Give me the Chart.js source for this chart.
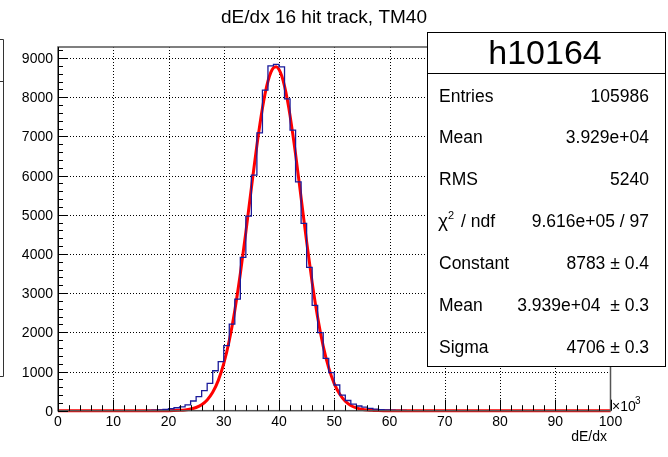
<!DOCTYPE html>
<html>
<head>
<meta charset="utf-8">
<script src="https://cdn.jsdelivr.net/npm/chart.js@4.4.1/dist/chart.umd.min.js"></script>
<style>
html, body { margin: 0; padding: 0; background: #fff; }
#wrap { width: 668px; height: 457px; }
</style>
</head>
<body>
<div id="wrap"><canvas id="c" width="668" height="457"></canvas></div>
<script>
// histogram: 100 bins of width 1 (x10^3)
const binWidth = 1;
const binCounts = [
    0, 0, 0, 0, 0, 0, 0, 0, 0, 0,
    0, 0, 0, 0, 2, 4, 8, 12, 20, 35,
    50, 75, 100, 150, 247, 357, 510, 698, 1020, 1250,
    1660, 2212, 2850, 3913, 4967, 6013, 7090, 8180, 8800, 8840,
    8776, 7960, 7160, 5842, 4780, 3660, 2690, 1995, 1337, 970,
    656, 400, 260, 170, 120, 90, 60, 40, 28, 18,
    12, 8, 5, 3, 2, 1, 0, 0, 0, 0,
    0, 0, 0, 0, 0, 0, 0, 0, 0, 0,
    0, 0, 0, 0, 0, 0, 0, 0, 0, 0,
    0, 0, 0, 0, 0, 0, 0, 0, 0, 0
];

const fitX = [0, 10, 15, 18, 20, 21, 22, 23, 24, 25, 26, 27, 28, 29, 30, 31, 32, 33, 34, 35, 36, 37, 37.5, 38, 38.5, 39, 39.5,
    40, 40.5, 41, 41.5, 42, 43, 44, 45, 46, 47, 48, 49, 50, 51, 52, 53, 54, 55, 56, 57, 58, 59, 60, 62, 70, 100];
const fitY = [0, 0, 0, 0.3, 1.8, 4.2, 9.5, 20, 42, 82, 153, 275, 469, 768, 1200, 1792, 2560, 3493, 4558, 5684, 6776, 7720, 8102, 8408, 8627, 8753, 8781,
    8710, 8542, 8284, 7943, 7531, 6544, 5436, 4316, 3275, 2376, 1647, 1092, 692, 419, 242, 134, 71, 36, 17, 8, 3.5, 1.5, 0.6, 0, 0, 0];

const xTicks = [0, 10, 20, 30, 40, 50, 60, 70, 80, 90, 100];
const yTicks = [0, 1000, 2000, 3000, 4000, 5000, 6000, 7000, 8000, 9000];
const yMax = 9282;

const statsTitle = 'h10164';
const statsRows = [
    ['Entries', '105986'],
    ['Mean', '3.929e+04'],
    ['RMS', '5240'],
    ['chi2', '9.616e+05 / 97'],
    ['Constant', '8783 \u00b1 0.4'],
    ['Mean', '3.939e+04  \u00b1 0.3'],
    ['Sigma', '4706 \u00b1 0.3']
];

const FONT = '"Liberation Sans", Arial, Helvetica, sans-serif';

const histPoints = binCounts.map((v, i) => ({ x: i * binWidth, y: v }));
histPoints.push({ x: binCounts.length * binWidth, y: binCounts[binCounts.length - 1] });
const fitPoints = fitX.map((x, i) => ({ x: x, y: fitY[i] }));

// ROOT-like frame, ticks, grid and stats box
const rootPlugin = {
    id: 'rootFrame',
    beforeDraw(chart) {
        const ctx = chart.ctx;
        ctx.save();
        ctx.fillStyle = '#fff';
        ctx.fillRect(0, 0, chart.width, chart.height);
        // title
        ctx.fillStyle = '#000';
        ctx.font = '19px ' + FONT;
        ctx.textAlign = 'center';
        ctx.textBaseline = 'alphabetic';
        ctx.fillText('dE/dx 16 hit track, TM40', 324, 23);
        // edge of a neighbouring box, cut off at the left
        ctx.strokeStyle = '#333';
        ctx.lineWidth = 1;
        ctx.beginPath();
        ctx.moveTo(0, 39.5); ctx.lineTo(3.5, 39.5);
        ctx.lineTo(3.5, 376.5); ctx.lineTo(0, 376.5);
        ctx.moveTo(0, 81.5); ctx.lineTo(3.5, 81.5);
        ctx.stroke();
        ctx.restore();
    },
    beforeDatasetsDraw(chart) {
        const ctx = chart.ctx;
        const a = chart.chartArea;
        const xs = chart.scales.x, ys = chart.scales.y;
        ctx.save();
        ctx.strokeStyle = '#000';
        ctx.lineWidth = 1;
        ctx.setLineDash([1, 2]);
        ctx.beginPath();
        xTicks.forEach(t => {
            if (t === 0 || t === 100) return;
            const px = Math.round(xs.getPixelForValue(t)) + 0.5;
            ctx.moveTo(px, a.top); ctx.lineTo(px, a.bottom);
        });
        yTicks.forEach(t => {
            if (t === 0) return;
            const py = Math.round(ys.getPixelForValue(t)) + 0.5;
            ctx.moveTo(a.left, py); ctx.lineTo(a.right, py);
        });
        ctx.stroke();
        ctx.restore();
    },
    afterDatasetsDraw(chart) {
        const ctx = chart.ctx;
        const a = chart.chartArea;
        const xs = chart.scales.x, ys = chart.scales.y;
        ctx.save();
        // frame
        ctx.strokeStyle = '#555';
        ctx.lineWidth = 1.5;
        ctx.strokeRect(a.left, a.top, a.right - a.left, a.bottom - a.top);
        ctx.strokeStyle = '#000';
        ctx.lineWidth = 1;
        ctx.beginPath();
        ctx.moveTo(a.left + 0.5, a.top); ctx.lineTo(a.left + 0.5, a.bottom);
        ctx.stroke();

        // ticks, drawn inside the frame
        ctx.beginPath();
        for (let v = 0; v <= yMax; v += 200) {
            const py = Math.round(ys.getPixelForValue(v)) + 0.5;
            const len = (v % 1000 === 0) ? 10 : 5;
            ctx.moveTo(a.left, py); ctx.lineTo(a.left + len, py);
        }
        for (let v = 0; v <= 100; v += 2) {
            const px = Math.round(xs.getPixelForValue(v)) + 0.5;
            const len = (v % 10 === 0) ? 11 : 5.5;
            ctx.moveTo(px, a.bottom); ctx.lineTo(px, a.bottom - len);
        }
        ctx.stroke();

        // tick labels
        ctx.fillStyle = '#000';
        ctx.font = '14px ' + FONT;
        ctx.textAlign = 'right';
        ctx.textBaseline = 'alphabetic';
        yTicks.forEach(t => {
            const py = ys.getPixelForValue(t);
            ctx.fillText(String(t), 53, py + 5);
        });
        ctx.textAlign = 'center';
        xTicks.forEach(t => {
            const px = xs.getPixelForValue(t);
            ctx.fillText(String(t), px, a.bottom + 15);
        });
        // exponent and axis title
        ctx.textAlign = 'left';
        ctx.fillText('\u00d710', 612, a.bottom);
        ctx.font = '10px ' + FONT;
        ctx.fillText('3', 635, a.bottom - 7);
        ctx.font = '14px ' + FONT;
        ctx.textAlign = 'right';
        ctx.fillText('dE/dx', 607, 441);

        // stats box
        const bx = 427.5, by = 32.5, bw = 238, bh = 334;
        ctx.fillStyle = '#fff';
        ctx.fillRect(bx, by, bw, bh);
        ctx.strokeStyle = '#000';
        ctx.lineWidth = 1;
        ctx.strokeRect(bx, by, bw, bh);
        ctx.beginPath();
        ctx.moveTo(bx, 73.5); ctx.lineTo(bx + bw, 73.5);
        ctx.stroke();
        ctx.fillStyle = '#000';
        ctx.font = '34px ' + FONT;
        ctx.textAlign = 'center';
        ctx.fillText(statsTitle, 545, 64);
        statsRows.forEach((row, i) => {
            const y = 101.5 + i * 41.85;
            ctx.font = '17.5px ' + FONT;
            ctx.textAlign = 'left';
            if (row[0] === 'chi2') {
                ctx.font = '19px ' + FONT;
                ctx.fillText('\u03c7', 438, y);
                ctx.font = '11px ' + FONT;
                ctx.fillText('2', 448, y - 8);
                ctx.font = '17.5px ' + FONT;
                ctx.fillText('/ ndf', 461, y);
            } else {
                ctx.fillText(row[0], 439, y);
            }
            ctx.textAlign = 'right';
            ctx.fillText(row[1], 649, y);
        });
        ctx.restore();
    }
};

new Chart(document.getElementById('c'), {
    type: 'line',
    data: {
        datasets: [
            {
                label: 'hist',
                data: histPoints,
                stepped: 'before',
                borderColor: '#1a1a9a',
                borderWidth: 1.3,
                pointRadius: 0,
                fill: false
            },
            {
                label: 'fit',
                data: fitPoints,
                borderColor: '#ff0000',
                borderWidth: 3,
                pointRadius: 0,
                cubicInterpolationMode: 'monotone',
                fill: false,
                clip: false
            }
        ]
    },
    plugins: [rootPlugin],
    options: {
        responsive: false,
        animation: false,
        devicePixelRatio: 1,
        layout: { padding: { left: 58, right: 57.5, top: 47, bottom: 46.3 } },
        plugins: { legend: { display: false }, tooltip: { enabled: false }, title: { display: false } },
        scales: {
            x: { type: 'linear', min: 0, max: 100, display: false },
            y: { type: 'linear', min: 0, max: yMax, display: false }
        }
    }
});
</script>
</body>
</html>
